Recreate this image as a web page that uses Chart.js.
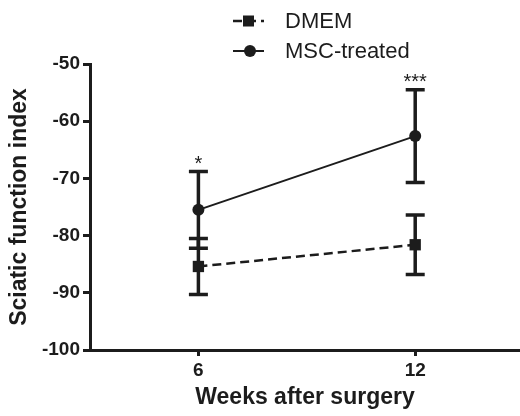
<!DOCTYPE html>
<html>
<head>
<meta charset="utf-8">
<script src="https://cdn.jsdelivr.net/npm/chart.js@4"></script>
<style>
  body { margin: 0; background: #fff; }
</style>
</head>
<body>
<canvas id="sfiChart" width="520" height="416"></canvas>
<script>
const weeks = [6, 12];
const seriesNames = ["DMEM", "MSC-treated"];
const dmemMean = [-85.4, -81.6];
const dmemSd = [4.9, 5.2];
const mscMean = [-75.5, -62.6];
const mscSd = [6.7, 8.1];
const mscSig = ["*", "***"];
const yTicks = [-100, -90, -80, -70, -60, -50];

const ink = "#1c1c1c";
const fam = "'Liberation Sans', Arial, sans-serif";

// error bars, drawn from each dataset's sd array
const errorBars = {
  id: "errorBars",
  beforeDatasetsDraw(chart) {
    const ctx = chart.ctx;
    const y = chart.scales.y;
    chart.data.datasets.forEach((ds, i) => {
      const meta = chart.getDatasetMeta(i);
      meta.data.forEach((pt, j) => {
        const v = ds.data[j].y;
        const top = y.getPixelForValue(v + ds.sd[j]);
        const bot = y.getPixelForValue(v - ds.sd[j]);
        ctx.save();
        ctx.strokeStyle = ink;
        ctx.lineWidth = 3.5;
        ctx.beginPath();
        ctx.moveTo(pt.x, top);
        ctx.lineTo(pt.x, bot);
        ctx.moveTo(pt.x - 9.5, top);
        ctx.lineTo(pt.x + 9.5, top);
        ctx.moveTo(pt.x - 9.5, bot);
        ctx.lineTo(pt.x + 9.5, bot);
        ctx.stroke();
        ctx.restore();
      });
    });
  },
  afterDatasetsDraw(chart) {
    // significance stars above the MSC bars
    const ctx = chart.ctx;
    const ds = chart.data.datasets[1];
    const meta = chart.getDatasetMeta(1);
    ctx.save();
    ctx.fillStyle = ink;
    ctx.font = "20px " + fam;
    ctx.textAlign = "center";
    ctx.textBaseline = "alphabetic";
    meta.data.forEach((pt, j) => {
      const top = chart.scales.y.getPixelForValue(ds.data[j].y + ds.sd[j]);
      ctx.fillText(mscSig[j], pt.x, top - 2);
    });
    ctx.restore();
  }
};

// two-row legend at the top
const stackLegend = {
  id: "stackLegend",
  afterDraw(chart) {
    const ctx = chart.ctx;
    const rows = [21, 51];
    chart.data.datasets.forEach((ds, i) => {
      const cy = rows[i];
      ctx.save();
      ctx.strokeStyle = ink;
      ctx.fillStyle = ink;
      ctx.lineWidth = ds.borderWidth;
      ctx.setLineDash(ds.borderDash || []);
      ctx.beginPath();
      ctx.moveTo(233, cy);
      ctx.lineTo(264, cy);
      ctx.stroke();
      ctx.setLineDash([]);
      if (ds.pointStyle === "rect") {
        ctx.fillRect(243, cy - 5.5, 11, 11);
      } else {
        ctx.beginPath();
        ctx.arc(250, cy, 6, 0, Math.PI * 2);
        ctx.fill();
      }
      ctx.font = "22px " + fam;
      ctx.textAlign = "left";
      ctx.textBaseline = "middle";
      ctx.fillText(ds.label, 285, cy + 1);
      ctx.restore();
    });
  }
};

const toPoints = (means) => means.map((m, i) => ({ x: weeks[i], y: m }));

new Chart(document.getElementById("sfiChart"), {
  type: "line",
  data: {
    datasets: [
      {
        label: seriesNames[0],
        data: toPoints(dmemMean),
        sd: dmemSd,
        borderColor: ink,
        backgroundColor: ink,
        borderWidth: 2.5,
        borderDash: [9, 5],
        pointStyle: "rect",
        pointRadius: 8,
        pointBorderWidth: 0
      },
      {
        label: seriesNames[1],
        data: toPoints(mscMean),
        sd: mscSd,
        borderColor: ink,
        backgroundColor: ink,
        borderWidth: 2,
        pointStyle: "circle",
        pointRadius: 6,
        pointBorderWidth: 0
      }
    ]
  },
  options: {
    responsive: false,
    animation: false,
    layout: { autoPadding: false, padding: { top: 64, right: 0, left: 0, bottom: 0 } },
    plugins: {
      legend: { display: false },
      tooltip: { enabled: false }
    },
    scales: {
      x: {
        type: "linear",
        min: 3,
        max: 14.9,
        afterBuildTicks: s => { s.ticks = weeks.map(v => ({ value: v })); },
        afterFit: s => { s.height = 66; s.paddingLeft = 0; s.paddingRight = 0; },
        grid: { drawOnChartArea: false, tickLength: 6, tickWidth: 3, color: ink },
        border: { width: 3, color: ink },
        ticks: { color: ink, font: { family: fam, size: 19, weight: "bold" }, padding: 3 },
        title: {
          display: true,
          text: "Weeks after surgery",
          color: ink,
          font: { family: fam, size: 23, weight: "bold" },
          padding: { top: 0, bottom: 5 }
        }
      },
      y: {
        min: -100,
        max: -50,
        afterBuildTicks: s => { s.ticks = yTicks.map(v => ({ value: v })); },
        afterFit: s => { s.width = 90; },
        grid: { drawOnChartArea: false, tickLength: 7, tickWidth: 3, color: ink },
        border: { width: 3, color: ink },
        ticks: { color: ink, font: { family: fam, size: 19, weight: "bold" }, padding: 3 },
        title: {
          display: true,
          text: "Sciatic function index",
          color: ink,
          font: { family: fam, size: 23, weight: "bold" },
          padding: { top: 6, bottom: 0 }
        }
      }
    }
  },
  plugins: [errorBars, stackLegend]
});
</script>
</body>
</html>
